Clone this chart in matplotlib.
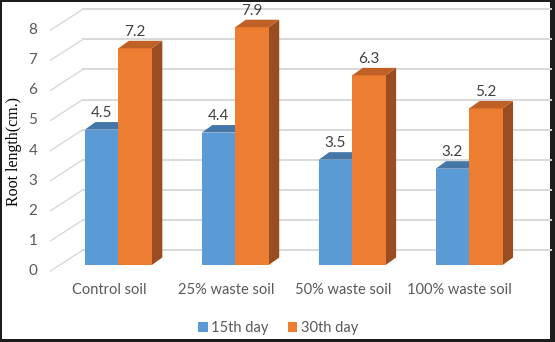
import matplotlib
matplotlib.use("Agg")
import matplotlib.pyplot as plt
from matplotlib.patches import Polygon, Rectangle, Patch
from matplotlib.transforms import ScaledTranslation, IdentityTransform
import numpy as np

categories = ["Control soil", "25% waste soil", "50% waste soil", "100% waste soil"]
day15 = [4.5, 4.4, 3.5, 3.2]
day30 = [7.2, 7.9, 6.3, 5.2]
series_names = ["15th day", "30th day"]
yticks = [0, 1, 2, 3, 4, 5, 6, 7, 8]

W, H = 555, 342
fig = plt.figure(figsize=(W / 100, H / 100), dpi=100)
fig.patch.set_facecolor("#1c1c1c")
fig.patches.append(Rectangle((2 / W, 3 / H), (550 - 2) / W, (340 - 3) / H,
                             transform=fig.transFigure, facecolor="white",
                             edgecolor="none", zorder=-10))

# axes: bar front plane
ax = fig.add_axes([59.95 / W, 77 / H, 467.6 / W, 240.8 / H])
ax.set_xlim(-0.5, 3.5)
ax.set_ylim(0, 8)
ax.axis("off")
ax.patch.set_visible(False)

font = "Lato"
tick_col = "#595959"
lbl_col = "#404040"
fs = 10.5

def px(dx, dy):
    return ScaledTranslation(dx / 100, dy / 100, fig.dpi_scale_trans)

# back wall gridlines
back = ax.transData + px(23, 15)
for v in yticks:
    ax.plot([-0.5, 3.5], [v, v], color="#d9d9d9", lw=1.4, transform=back,
            clip_on=False, zorder=1)
# side wall diagonals
for v in yticks:
    p0 = ax.transData.transform((-0.5, v)) + np.array([-9.5, -6])
    p1 = ax.transData.transform((-0.5, v)) + np.array([23, 15])
    ax.plot([p0[0], p1[0]], [p0[1], p1[1]], color="#d9d9d9", lw=1.0,
            transform=IdentityTransform(), clip_on=False, zorder=1)
    ax.text(-0.5, v, str(v), transform=ax.transData + px(-22.5, -6),
            ha="right", va="center", fontsize=11, color=tick_col, family=font)

# bars
w = 0.286
ppx = ax.transData.transform((1, 0))[0] - ax.transData.transform((0, 0))[0]
ppy = ax.transData.transform((0, 1))[1] - ax.transData.transform((0, 0))[1]
ddx = 10.5 / ppx
ddy = 7.5 / ppy

colors = [("#5b9bd5", "#4576a8", "#3f6d9a"), ("#ed7d31", "#bf6027", "#9a4d20")]
x = np.arange(len(categories))
for i in range(len(categories)):
    for s, (vals, offs) in enumerate([(day15, -w), (day30, 0.0)]):
        front, top, side = colors[s]
        x0 = x[i] + offs
        h = vals[i]
        z = 3 + s * 3
        ax.bar(x0, h, width=w, align="edge", color=front, edgecolor="none",
               zorder=z, clip_on=False)
        ax.add_patch(Polygon([(x0, h), (x0 + w, h), (x0 + w + ddx, h + ddy), (x0 + ddx, h + ddy)],
                             closed=True, facecolor=top, edgecolor="none", zorder=z, clip_on=False))
        ax.add_patch(Polygon([(x0 + w, 0), (x0 + w, h), (x0 + w + ddx, h + ddy), (x0 + w + ddx, ddy)],
                             closed=True, facecolor=side, edgecolor="none", zorder=z - 1, clip_on=False))
        ax.text(x0 + w / 2, h, f"{h:.1f}", transform=ax.transData + px(0, 16.5),
                ha="center", va="center", fontsize=11, color=lbl_col, family=font,
                zorder=10)
    ax.text(x[i], 0, categories[i], transform=ax.transData + px(-9.5, -25),
            ha="center", va="center", fontsize=fs, color=tick_col, family=font)

# y label
fig.text(14 / W, 1 - 151 / H, "Root length(cm.)", rotation=90, ha="center", va="center",
         fontsize=11.5, family="Liberation Serif", color="#000000")

# legend
handles = [Patch(facecolor=colors[0][0]), Patch(facecolor=colors[1][0])]
leg = fig.legend(handles, series_names, loc="center", bbox_to_anchor=(278 / W, 1 - 328 / H),
                 ncol=2, frameon=False, handlelength=0.65, handleheight=0.65,
                 handletextpad=0.25, columnspacing=1.3,
                 prop={"family": font, "size": fs})
for t in leg.get_texts():
    t.set_color(tick_col)

fig.savefig("out.png", dpi=100)
